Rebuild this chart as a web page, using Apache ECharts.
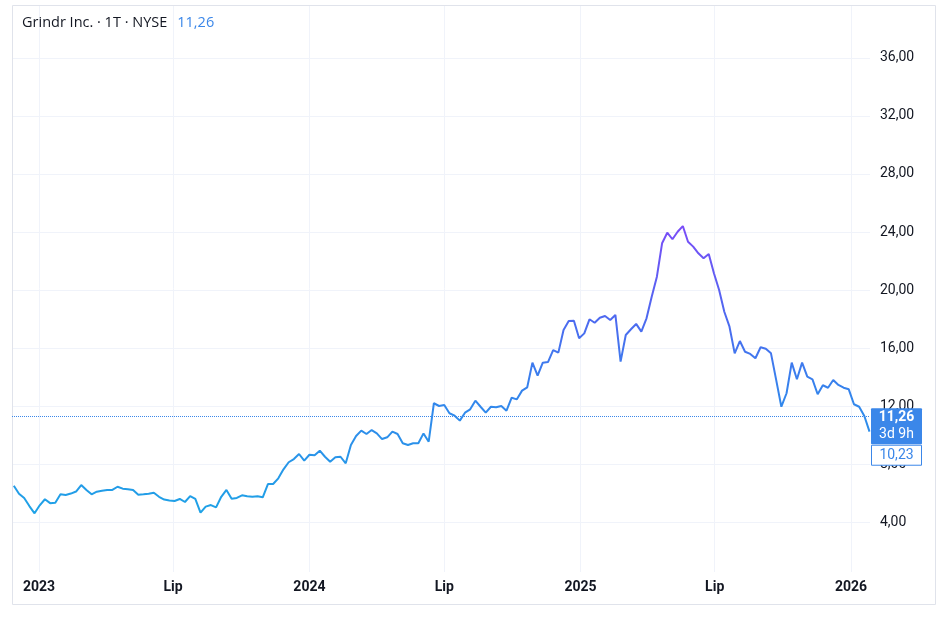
<!DOCTYPE html>
<html>
<head>
<meta charset="utf-8">
<title>Grindr Inc. · 1T · NYSE</title>
<script src="https://cdn.jsdelivr.net/npm/echarts@6/dist/echarts.min.js"></script>
<style>
  html, body { margin: 0; padding: 0; background: #ffffff; }
  #main { width: 948px; height: 618px; }
</style>
</head>
<body>
<div id="main"></div>
<script>
// weekly closes, first week starts 2022-11-28
var firstWeek = Date.UTC(2022, 10, 28);
var closes = [
    6.5, 5.95, 5.65, 5.1, 4.6, 5.15, 5.57, 5.3, 5.33, 5.91,
    5.86, 5.96, 6.1, 6.55, 6.21, 5.91, 6.09, 6.15, 6.21, 6.21,
    6.43, 6.3, 6.26, 6.2, 5.88, 5.91, 5.95, 6.02, 5.74, 5.55,
    5.48, 5.45, 5.59, 5.38, 5.79, 5.59, 4.64, 5.06, 5.17, 5.01,
    5.74, 6.21, 5.61, 5.66, 5.84, 5.77, 5.74, 5.77, 5.7, 6.62,
    6.62, 7.01, 7.63, 8.12, 8.34, 8.69, 8.23, 8.64, 8.6, 8.92,
    8.5, 8.16, 8.46, 8.5, 8.05, 9.31, 9.93, 10.3, 10.07, 10.34,
    10.11, 9.72, 9.84, 10.23, 10.07, 9.43, 9.31, 9.43, 9.43, 10.11,
    9.54, 12.19, 12.0, 12.07, 11.5, 11.33, 10.99, 11.54, 11.77, 12.37,
    11.95, 11.54, 11.95, 11.91, 12.0, 11.68, 12.57, 12.46, 13.06, 13.29,
    14.99, 14.09, 14.99, 15.03, 15.86, 15.68, 17.24, 17.86, 17.88, 16.67,
    17.01, 17.98, 17.74, 18.09, 18.21, 17.93, 18.28, 15.06, 16.9, 17.29,
    17.66, 17.13, 18.05, 19.54, 20.92, 23.22, 23.95, 23.5, 24.02, 24.41,
    23.33, 22.99, 22.53, 22.19, 22.48, 21.15, 20.0, 18.5, 17.47, 15.63,
    16.48, 15.74, 15.59, 15.29, 16.05, 15.95, 15.63, 13.8, 11.95, 12.88,
    14.99, 13.84, 14.99, 14.02, 13.84, 12.81, 13.43, 13.26, 13.79, 13.45,
    13.26, 13.15, 12.12, 11.95, 11.31, 10.23
];
var priceTicks = [4, 8, 12, 16, 20, 24, 28, 32, 36];
var dateTicks = [
    Date.UTC(2023, 0, 1), Date.UTC(2023, 6, 1),
    Date.UTC(2024, 0, 1), Date.UTC(2024, 6, 1),
    Date.UTC(2025, 0, 1), Date.UTC(2025, 6, 1),
    Date.UTC(2026, 0, 1)
];
var monthNames = ['Sty', 'Lut', 'Mar', 'Kwi', 'Maj', 'Cze', 'Lip', 'Sie', 'Wrz', 'Paź', 'Lis', 'Gru'];
var lastPrice = 11.26;
var lastClose = 10.23;
var countdown = '3d 9h';

var DAY = 86400000;
var font = 'Roboto, "Noto Sans", sans-serif';

function fmt(v) {
    return v.toFixed(2).replace('.', ',');
}

var seriesData = [];
for (let i = 0; i < closes.length; i = i + 1) {
    seriesData.push([firstWeek + i * 7 * DAY, closes[i]]);
}

var myChart = echarts.init(document.getElementById('main'));

var option = {
    backgroundColor: '#ffffff',
    animation: false,
    title: {
        left: 17,
        top: 9,
        text: '{a|Grindr Inc. · 1T · NYSE}  {b|' + fmt(lastPrice) + '}',
        textStyle: {
            rich: {
                a: { fontFamily: '"Open Sans", sans-serif', fontSize: 14.5, fontWeight: 'normal', color: '#131722' },
                b: { fontFamily: '"Open Sans", sans-serif', fontSize: 14.5, fontWeight: 'normal', color: '#3b87e9' }
            }
        }
    },
    grid: { left: 12, right: 78, top: 5, bottom: 46 },
    xAxis: {
        type: 'value',
        min: Date.UTC(2023, 0, 1) - 36.44 * DAY,
        max: Date.UTC(2026, 0, 1) + 25.65 * DAY,
        axisLine: { show: false },
        axisTick: { show: false, customValues: dateTicks },
        splitLine: { show: true, lineStyle: { color: '#f0f3fa', width: 1 } },
        axisLabel: {
            customValues: dateTicks,
            margin: 8,
            color: '#131722',
            fontFamily: font,
            fontSize: 14,
            fontWeight: 'bold',
            formatter: function (v) {
                let d = new Date(v);
                if (d.getUTCMonth() === 0) {
                    return String(d.getUTCFullYear());
                }
                return monthNames[d.getUTCMonth()];
            }
        }
    },
    yAxis: {
        type: 'value',
        position: 'right',
        min: 0.552,
        max: 39.655,
        axisLine: { show: false },
        axisTick: { show: false, customValues: priceTicks },
        splitLine: { show: true, lineStyle: { color: '#f0f3fa', width: 1 } },
        axisLabel: {
            customValues: priceTicks,
            margin: 10,
            color: '#131722',
            fontFamily: font,
            fontSize: 14,
            formatter: function (v) { return fmt(v); }
        }
    },
    series: [
        {
            type: 'line',
            data: seriesData,
            showSymbol: false,
            symbol: 'none',
            smooth: false,
            lineStyle: {
                width: 2,
                color: new echarts.graphic.LinearGradient(0, 0, 0, 1, [
                    { offset: 0, color: '#7b4cf8' },
                    { offset: 0.3, color: '#5067f0' },
                    { offset: 0.6, color: '#3386ec' },
                    { offset: 1, color: '#1ea3e6' }
                ])
            },
            markLine: {
                silent: true,
                symbol: 'none',
                label: { show: false },
                lineStyle: { color: '#3b87e9', type: 'dotted', width: 1 },
                data: [{ yAxis: lastPrice }]
            }
        }
    ]
};

myChart.setOption(option);

// price tags on the right axis
var tagY = myChart.convertToPixel({ yAxisIndex: 0 }, lastPrice);
var tagX = 871;
myChart.setOption({
    graphic: [
        {
            type: 'rect',
            shape: { x: 12.5, y: 5.5, width: 923, height: 599 },
            style: { fill: 'none', stroke: '#e0e3eb', lineWidth: 1 },
            silent: true
        },
        {
            type: 'rect',
            shape: { x: tagX, y: tagY - 8.5, width: 51, height: 36, r: 1 },
            style: { fill: '#3b87e9' },
            z: 100
        },
        {
            type: 'text',
            x: tagX + 25.5, y: tagY + 0.5,
            style: { text: fmt(lastPrice), fill: '#ffffff', font: 'bold 14px ' + font, align: 'center', verticalAlign: 'middle' },
            z: 101
        },
        {
            type: 'text',
            x: tagX + 25.5, y: tagY + 17.5,
            style: { text: countdown, fill: '#ffffff', font: '14px ' + font, align: 'center', verticalAlign: 'middle' },
            z: 101
        },
        {
            type: 'rect',
            shape: { x: tagX + 0.5, y: tagY + 28.5, width: 50, height: 20 },
            style: { fill: '#ffffff', stroke: '#3b87e9', lineWidth: 1 },
            z: 100
        },
        {
            type: 'text',
            x: tagX + 25.5, y: tagY + 38.5,
            style: { text: fmt(lastClose), fill: '#3b87e9', font: '14px ' + font, align: 'center', verticalAlign: 'middle' },
            z: 101
        }
    ]
});
</script>
</body>
</html>
